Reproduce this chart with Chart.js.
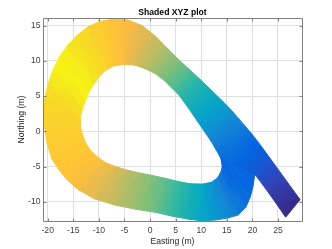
<!DOCTYPE html>
<html>
<head>
<meta charset="utf-8">
<script src="https://cdn.jsdelivr.net/npm/chart.js@4.4.0/dist/chart.umd.min.js"></script>
<style>
  html, body { margin: 0; padding: 0; background: #fff; }
</style>
</head>
<body>
<canvas id="chart" width="332" height="249"></canvas>
<script>
// swath cross-sections, in travel order (start = lower right end)
var innerX = [26.5, 24.6, 22.7, 20.7, 16.8, 13.6, 12.1, 10.6, 9.1, 7.5, 5.8, 4.3, 2.8, 1.0, -1.0, -3.0, -5.0, -7.0, -8.6, -9.9, -11.0, -11.9, -12.6, -13.2, -13.6, -13.65, -13.4, -13.0, -12.4, -11.4, -10.2, -8.6, -6.6, -4.5, -2.2, 0.3, 2.8, 5.3, 7.8, 10.2, 12.0, 13.2, 13.9, 14.1, 13.9, 13.4, 12.6, 11.8];
var innerY = [-12.2, -10.2, -8.25, -6.3, -4.6, -3.4, -1.6, 0.0, 1.6, 3.3, 5.0, 6.1, 7.2, 8.2, 8.9, 9.4, 9.5, 9.3, 8.7, 7.8, 6.7, 5.6, 4.4, 3.2, 2.0, 1.0, 0.0, -0.9, -1.9, -2.9, -3.7, -4.5, -5.05, -5.5, -5.9, -6.25, -6.65, -7.1, -7.45, -7.5, -7.25, -6.6, -5.7, -5.0, -4.0, -3.2, -2.2, -1.0];
var outerX = [29.3, 27.4, 25.5, 23.5, 21.6, 19.8, 17.9, 16.0, 14.0, 12.0, 9.9, 7.8, 5.7, 3.5, 1.2, -1.5, -4.3, -7.2, -9.8, -12.2, -14.3, -16.1, -17.7, -18.9, -19.9, -20.6, -20.85, -20.6, -20.1, -19.2, -18.0, -16.2, -14.0, -11.0, -7.0, -3.0, 1.0, 4.6, 7.7, 10.2, 12.8, 15.2, 17.2, 18.7, 19.6, 20.1, 20.4, 19.0];
var outerY = [-9.7, -7.8, -5.9, -3.9, -2.0, -0.3, 1.3, 2.9, 4.4, 5.8, 7.3, 8.7, 10.1, 11.7, 13.4, 15.0, 15.8, 15.95, 15.6, 14.8, 13.6, 12.2, 10.6, 8.8, 6.8, 4.7, 2.6, 0.5, -1.8, -3.9, -5.3, -6.9, -8.3, -9.55, -10.45, -11.05, -11.5, -12.1, -12.5, -12.72, -12.6, -12.3, -11.9, -10.8, -9.3, -7.9, -6.4, -3.5];
// colour value (elevation, normalised 0..1) at each cross-section
var elevation = [0.0, 0.03, 0.065, 0.1, 0.13, 0.18, 0.24, 0.3, 0.36, 0.42, 0.48, 0.54, 0.6, 0.66, 0.72, 0.78, 0.83, 0.86, 0.89, 0.92, 0.95, 0.97, 0.98, 0.96, 0.93, 0.91, 0.9, 0.89, 0.88, 0.87, 0.86, 0.84, 0.8, 0.75, 0.69, 0.63, 0.57, 0.5, 0.44, 0.38, 0.31, 0.25, 0.2, 0.16, 0.14, 0.14, 0.15, 0.16];

var xTicks = [-20, -15, -10, -5, 0, 5, 10, 15, 20, 25];
var yTicks = [-10, -5, 0, 5, 10, 15];

// parula colormap stops: [position, r, g, b]
var parula = [
  [0 / 63, 53, 42, 135], [4 / 63, 50, 67, 186], [8 / 63, 3, 99, 225], [12 / 63, 13, 117, 220],
  [16 / 63, 20, 133, 212], [20 / 63, 9, 152, 209], [24 / 63, 6, 167, 198], [28 / 63, 21, 177, 180],
  [32 / 63, 56, 185, 158], [36 / 63, 101, 190, 134], [40 / 63, 146, 191, 115], [44 / 63, 183, 189, 100],
  [48 / 63, 217, 186, 86], [52 / 63, 248, 187, 68], [54 / 63, 255, 195, 55], [56 / 63, 252, 206, 46],
  [60 / 63, 244, 228, 29], [63 / 63, 249, 251, 14]
];

var FONT = 'Liberation Sans, Arial, Helvetica, sans-serif';

function parulaColor(t) {
  t = Math.max(0, Math.min(1, t));
  for (var k = 0; k < parula.length - 1; k++) {
    var a = parula[k], b = parula[k + 1];
    if (t <= b[0]) {
      var f = (t - a[0]) / (b[0] - a[0]);
      return 'rgb(' + Math.round(a[1] + (b[1] - a[1]) * f) + ',' +
        Math.round(a[2] + (b[2] - a[2]) * f) + ',' +
        Math.round(a[3] + (b[3] - a[3]) * f) + ')';
    }
  }
  var last = parula[parula.length - 1];
  return 'rgb(' + last[1] + ',' + last[2] + ',' + last[3] + ')';
}

// gradient between the middles of cross-section i and i+1
function quadFill(i) {
  return function (context) {
    var chart = context.chart;
    var xs = chart.scales.x, ys = chart.scales.y;
    if (!chart.chartArea || !xs || !ys) return parulaColor(elevation[i]);
    var x0 = xs.getPixelForValue((innerX[i] + outerX[i]) / 2);
    var y0 = ys.getPixelForValue((innerY[i] + outerY[i]) / 2);
    var x1 = xs.getPixelForValue((innerX[i + 1] + outerX[i + 1]) / 2);
    var y1 = ys.getPixelForValue((innerY[i + 1] + outerY[i + 1]) / 2);
    var g = chart.ctx.createLinearGradient(x0, y0, x1, y1);
    g.addColorStop(0, parulaColor(elevation[i]));
    g.addColorStop(1, parulaColor(elevation[i + 1]));
    return g;
  };
}

// one filled quad per pair of neighbouring cross-sections
// (Chart.js paints dataset 0 last, so the start of the track lies on top where it overlaps)
var datasets = [];
for (var i = 0; i < innerX.length - 1; i++) {
  datasets.push({
    data: [
      { x: innerX[i], y: innerY[i] },
      { x: innerX[i + 1], y: innerY[i + 1] },
      { x: outerX[i + 1], y: outerY[i + 1] },
      { x: outerX[i], y: outerY[i] },
      { x: innerX[i], y: innerY[i] }
    ],
    fill: 'shape',
    backgroundColor: quadFill(i),
    borderColor: quadFill(i),
    borderWidth: 1,
    pointRadius: 0,
    tension: 0
  });
}

// box with inward ticks on all four sides
var axesBox = {
  id: 'axesBox',
  afterDatasetsDraw: function (chart) {
    var ctx = chart.ctx, a = chart.chartArea;
    var xs = chart.scales.x, ys = chart.scales.y;
    var L = Math.round(a.left) + 0.5, R = Math.round(a.right) + 0.5;
    var T = Math.round(a.top) + 0.5, B = Math.round(a.bottom) + 0.5;
    ctx.save();
    ctx.strokeStyle = '#808080';
    ctx.lineWidth = 1;
    ctx.beginPath();
    xTicks.forEach(function (v) {
      var px = Math.round(xs.getPixelForValue(v)) + 0.5;
      ctx.moveTo(px, B); ctx.lineTo(px, B - 3);
      ctx.moveTo(px, T); ctx.lineTo(px, T + 3);
    });
    yTicks.forEach(function (v) {
      var py = Math.round(ys.getPixelForValue(v)) + 0.5;
      ctx.moveTo(L, py); ctx.lineTo(L + 3, py);
      ctx.moveTo(R, py); ctx.lineTo(R - 3, py);
    });
    ctx.rect(L, T, R - L, B - T);
    ctx.stroke();
    ctx.restore();
  }
};

new Chart(document.getElementById('chart'), {
  type: 'line',
  data: { datasets: datasets },
  options: {
    responsive: false,
    animation: false,
    layout: { padding: { left: 0, right: 30, top: 0, bottom: 0 } },
    plugins: {
      legend: { display: false },
      tooltip: { enabled: false },
      title: {
        display: true,
        text: 'Shaded XYZ plot',
        fullSize: false,
        color: '#000',
        font: { family: FONT, size: 8.6, weight: 'bold', lineHeight: 1.2 },
        padding: { top: 7, bottom: 0.68 }
      }
    },
    scales: {
      x: {
        type: 'linear',
        min: -20.92,
        max: 29.69,
        afterBuildTicks: function (s) { s.ticks = xTicks.map(function (v) { return { value: v }; }); },
        afterFit: function (s) { s.height = 28; s.paddingLeft = 0; s.paddingRight = 0; },
        grid: { color: '#dfdfdf', drawTicks: false },
        border: { display: false },
        ticks: { color: '#404040', padding: 4, maxRotation: 0, font: { family: FONT, size: 8.6 } },
        title: {
          display: true, text: 'Easting (m)', color: '#262626',
          font: { family: FONT, size: 8.6, lineHeight: 1.2 },
          padding: { top: 0, bottom: 2.2 }
        }
      },
      y: {
        type: 'linear',
        min: -12.74,
        max: 16.09,
        afterBuildTicks: function (s) { s.ticks = yTicks.map(function (v) { return { value: v }; }); },
        afterFit: function (s) { s.width = 43; s.paddingTop = 0; s.paddingBottom = 0; },
        grid: { color: '#dfdfdf', drawTicks: false },
        border: { display: false },
        ticks: { color: '#404040', padding: 2.5, font: { family: FONT, size: 8.6 } },
        title: {
          display: true, text: 'Northing (m)', color: '#262626',
          font: { family: FONT, size: 8.6, lineHeight: 1.2 },
          padding: { top: 16, bottom: 0 }
        }
      }
    }
  },
  plugins: [axesBox]
});
</script>
</body>
</html>
